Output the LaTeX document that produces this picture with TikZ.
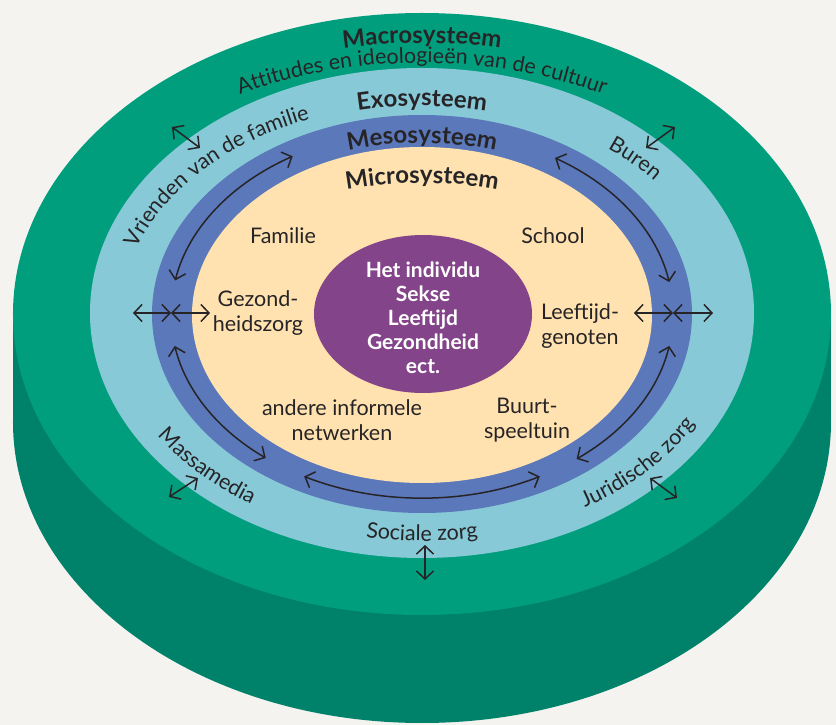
\documentclass[tikz,border=0pt]{standalone}
\usepackage{fontspec}
\setmainfont{Lato}
\usetikzlibrary{arrows.meta,decorations.text}
\definecolor{paper}{HTML}{F4F3EF}
\definecolor{macro}{HTML}{009E7C}
\definecolor{macrodark}{HTML}{00826A}
\definecolor{exo}{HTML}{88C9D8}
\definecolor{meso}{HTML}{5B78BA}
\definecolor{micro}{HTML}{FFE2AF}
\definecolor{indiv}{HTML}{84448A}
\definecolor{ink}{HTML}{262426}
\newcommand{\ringfont}{\fontsize{21.5}{25}\selectfont}
\newcommand{\headfont}{\bfseries\fontsize{24}{28}\selectfont}
\begin{document}
\begin{tikzpicture}[x=1pt,y=1pt,%
conn/.style={draw=ink, line width=1.5pt, {Straight Barb[length=8pt,width=17pt]}-{Straight Barb[length=8pt,width=17pt]}},%
lbl/.style={font=\ringfont, text=ink, align=center, inner sep=0pt},%
ringtext/.style={decorate, decoration={text along path, text align=center, text color=ink, text={#1}}}]%
\fill[paper] (-422,-411) rectangle (414,314);%
\fill[macrodark] (0,-108) ellipse[x radius=409pt, y radius=301pt];%
\fill[macrodark] (-409,0) rectangle (409,-108);%
\fill[macro] (0,0) ellipse[x radius=409pt, y radius=301pt];%
\fill[exo] (0,1) ellipse[x radius=332pt, y radius=245pt];%
\fill[meso] (0,0) ellipse[x radius=270pt, y radius=199pt];%
\fill[micro] (0,-1) ellipse[x radius=230pt, y radius=168pt];%
\fill[indiv] (1,0) ellipse[x radius=109pt, y radius=79pt];%
\path[ringtext={|\headfont|Macrosysteem}] (150:400 and 271) arc[start angle=150, end angle=30, x radius=400pt, y radius=271pt];%
\path[ringtext={|\ringfont|Attitudes en ideologieën van de cultuur}] (172:375 and 251) arc[start angle=172, end angle=8, x radius=375pt, y radius=251pt];%
\path[ringtext={|\headfont|Exosysteem}] (150:300 and 208) arc[start angle=150, end angle=30, x radius=300pt, y radius=208pt];%
\path[ringtext={|\headfont|Mesosysteem}] (150:250 and 171) arc[start angle=150, end angle=30, x radius=250pt, y radius=171pt];%
\path[ringtext={|\headfont|Microsysteem}] (150:240 and 131) arc[start angle=150, end angle=30, x radius=240pt, y radius=131pt];%
\path[ringtext={|\ringfont|Vrienden van de familie}] (184:300 and 210) arc[start angle=184, end angle=96, x radius=300pt, y radius=210pt];%
\path[ringtext={|\ringfont|Buren}] (64:300 and 210) arc[start angle=64, end angle=25, x radius=300pt, y radius=210pt];%
\path[ringtext={|\ringfont|Massamedia}] (204:313 and 227) arc[start angle=204, end angle=244, x radius=313pt, y radius=227pt];%
\path[ringtext={|\ringfont|Sociale zorg}] (250:313 and 227) arc[start angle=250, end angle=290, x radius=313pt, y radius=227pt];%
\path[ringtext={|\ringfont|Juridische zorg}] (294:313 and 227) arc[start angle=294, end angle=340, x radius=313pt, y radius=227pt];%
\node[lbl] (familie) at (-139,78) {Familie};%
\node[lbl] (school) at (131,78) {School};%
\node[lbl] (gezond) at (-164,1) {Gezond-\\heidszorg};%
\node[lbl] (leeftijd) at (158,-12) {Leeftijd-\\genoten};%
\node[lbl] (informeel) at (-80,-106) {andere informele\\netwerken};%
\node[lbl] (buurt) at (105,-106) {Buurt-\\speeltuin};%
\node[lbl, text=white, font=\bfseries\fontsize{21}{24}\selectfont] (individu) at (1,-4) {Het individu\\Sekse\\Leeftijd\\Gezondheid\\ect.};%
\coordinate (exoL) at (-289,1);%
\coordinate (mesoL) at (-251,1);%
\coordinate (microL) at (-212,1);%
\coordinate (microR) at (212,1);%
\coordinate (mesoR) at (251,1);%
\coordinate (exoR) at (291,1);%
\draw[conn] (exoL) -- (mesoL);%
\draw[conn] (mesoL) -- (microL);%
\draw[conn] (microR) -- (mesoR);%
\draw[conn] (mesoR) -- (exoR);%
\coordinate (ulA) at (-250,187);%
\coordinate (ulB) at (-222,166);%
\coordinate (urA) at (224,166);%
\coordinate (urB) at (253,187);%
\coordinate (llA) at (-253,-183);%
\coordinate (llB) at (-224,-164);%
\coordinate (lrA) at (228,-164);%
\coordinate (lrB) at (255,-184);%
\coordinate (botA) at (3,-231);%
\coordinate (botB) at (3,-266);%
\draw[conn] (ulA) -- (ulB);%
\draw[conn] (urA) -- (urB);%
\draw[conn] (llA) -- (llB);%
\draw[conn] (lrA) -- (lrB);%
\draw[conn] (botA) -- (botB);%
\coordinate (mUL) at (169.5:251 and 184);%
\coordinate (mUR) at (58:251 and 184);%
\coordinate (mLL) at (190:251 and 184);%
\coordinate (mLR) at (350:251 and 184);%
\coordinate (mB) at (242:251 and 184);%
\draw[conn] (mUL) arc[start angle=169.5, end angle=121, x radius=251pt, y radius=184pt];%
\draw[conn] (mUR) arc[start angle=58, end angle=10, x radius=251pt, y radius=184pt];%
\draw[conn] (mLL) arc[start angle=190, end angle=231.5, x radius=251pt, y radius=184pt];%
\draw[conn] (mLR) arc[start angle=350, end angle=308, x radius=251pt, y radius=184pt];%
\draw[conn] (mB) arc[start angle=242, end angle=298, x radius=251pt, y radius=184pt];%
\end{tikzpicture}
\end{document}
